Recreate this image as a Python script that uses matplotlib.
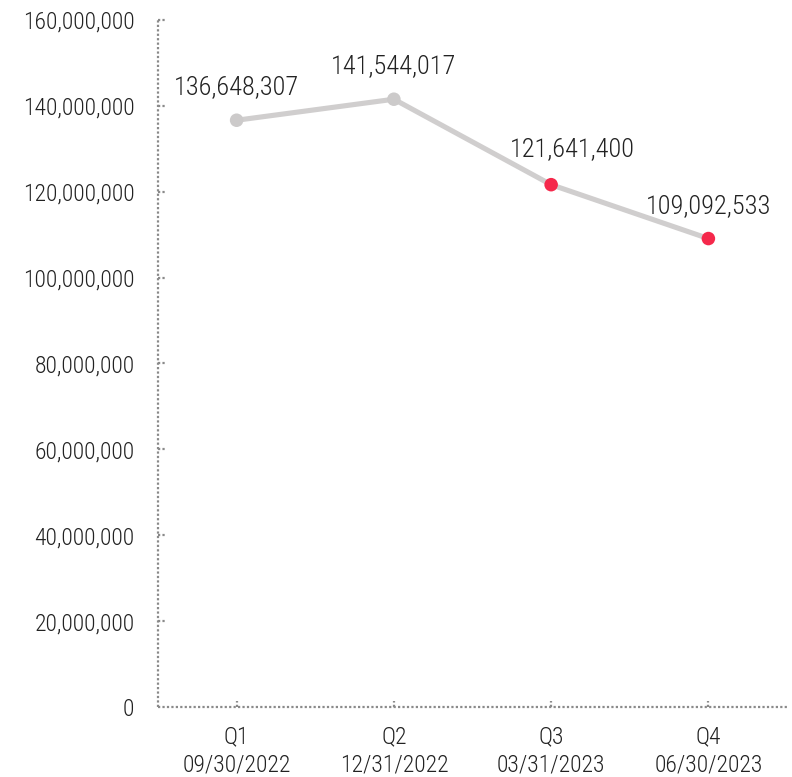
import matplotlib
matplotlib.use("Agg")
import matplotlib.pyplot as plt
from matplotlib.ticker import FuncFormatter
from matplotlib import font_manager

quarters = ["Q1", "Q2", "Q3", "Q4"]
dates = ["09/30/2022", "12/31/2022", "03/31/2023", "06/30/2023"]
values = [136648307, 141544017, 121641400, 109092533]
marker_colors = ["#cccaca", "#cccaca", "#f5284b", "#f5284b"]
y_ticks = [0, 20000000, 40000000, 60000000, 80000000, 100000000,
           120000000, 140000000, 160000000]

# label offsets in points (nudged so the text clears the line)
label_offsets = [(0, 15), (0, 15), (15, 17), (0, 15)]

names = {f.name for f in font_manager.fontManager.ttflist}
family = [n for n in ["Roboto Condensed", "Roboto", "DejaVu Sans"] if n in names]
plt.rcParams["font.family"] = family
plt.rcParams["font.weight"] = "light"

fig = plt.figure(figsize=(7.92, 7.77), dpi=100)
ax = fig.add_axes([0.1995, 0.0901, 0.7942, 0.8842])

x = list(range(len(values)))
ax.plot(x, values, color="#d0cece", lw=3.7, zorder=2, solid_capstyle="round")
ax.scatter(x, values, s=95, c=marker_colors, zorder=3, linewidths=0)

for xi, v, off in zip(x, values, label_offsets):
    ax.annotate(f"{v:,}", (xi, v), xytext=off, textcoords="offset points",
                ha="center", va="bottom", fontsize=19, color="#222222")

ax.set_xlim(-0.5, 3.5)
ax.set_ylim(0, 160000000)
ax.set_yticks(y_ticks)
ax.yaxis.set_major_formatter(FuncFormatter(lambda v, p: f"{int(v):,}"))
ax.set_xticks(x)
ax.set_xticklabels([f"{q}\n{d}" for q, d in zip(quarters, dates)],
                   linespacing=1.3)

for side in ["top", "right"]:
    ax.spines[side].set_visible(False)
for side in ["left", "bottom"]:
    sp = ax.spines[side]
    sp.set_linestyle((0, (1, 1)))
    sp.set_capstyle("butt")
    sp.set_color("#8a8a8a")
    sp.set_linewidth(1.6)

# dotted tick marks pointing into the plot area
ax.tick_params(axis="both", length=0, labelcolor="#222222", labelsize=17)
ax.tick_params(axis="y", pad=17)
ax.tick_params(axis="x", pad=13)
for v in y_ticks[1:]:
    ax.plot([0, 0.012], [v, v], transform=ax.get_yaxis_transform(),
            color="#8a8a8a", lw=1.6, ls=(0, (1, 1)), dash_capstyle="butt",
            clip_on=False, zorder=1)
for xi in x:
    ax.plot([xi, xi], [0, 0.008], transform=ax.get_xaxis_transform(),
            color="#8a8a8a", lw=1.6, ls=(0, (1, 1)), dash_capstyle="butt",
            clip_on=False, zorder=1)

fig.savefig("out.png", dpi=100)
